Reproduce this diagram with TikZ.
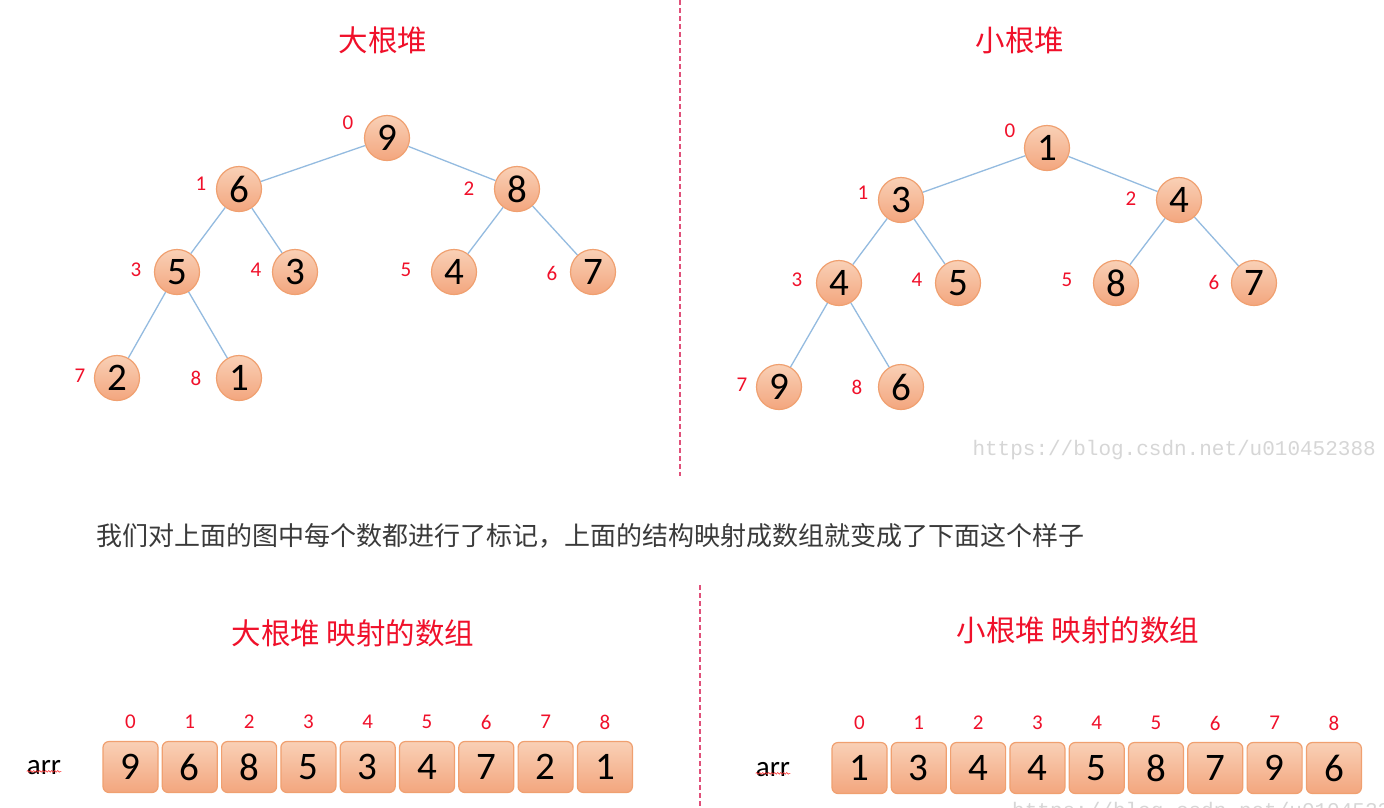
\documentclass[tikz,border=0pt]{standalone}
\usepackage{fontspec}
\setmainfont{Carlito}
\newfontfamily\cjk{Noto Sans CJK SC}
\newfontfamily\wmfont{Liberation Mono}
\usetikzlibrary{decorations.pathmorphing}
\definecolor{peachTop}{HTML}{F9D0B6}
\definecolor{peachBot}{HTML}{F3A67E}
\definecolor{peachLine}{HTML}{F0A070}
\definecolor{edgeblue}{HTML}{94BBE0}
\definecolor{idxred}{HTML}{F0102A}
\definecolor{dashred}{HTML}{E0507A}
\definecolor{captext}{HTML}{3A3A3A}
\begin{document}
\begin{tikzpicture}[x=1pt,y=-1pt,
  hnode/.style={circle,minimum size=45pt,inner sep=0pt,draw=peachLine,line width=1.2pt,
    top color=peachTop,bottom color=peachBot,font=\fontsize{39}{39}\selectfont},
  arrbox/.style={rectangle,rounded corners=6pt,minimum width=55pt,minimum height=51pt,inner sep=0pt,
    draw=peachLine,line width=1.2pt,top color=peachTop,bottom color=peachBot,font=\fontsize{39}{39}\selectfont},
  idx/.style={text=idxred,font=\fontsize{21}{21}\selectfont,inner sep=0pt},
  edge/.style={draw=edgeblue,line width=1.3pt},
  title/.style={text=idxred,font=\cjk\fontsize{29.5}{29.5}\selectfont,inner sep=0pt},
  sep/.style={draw=dashred,line width=1.2pt,dash pattern=on 5pt off 3pt},
  wm/.style={text=black!16,font=\wmfont\fontsize{21}{21}\selectfont,inner sep=0pt},
  arrlbl/.style={font=\fontsize{29}{29}\selectfont,inner sep=0pt}
]
\useasboundingbox (0,0) rectangle (1384,807);
\fill[white] (0,0) rectangle (1384,807);

% separators
\coordinate (s1a) at (680,0); \coordinate (s1b) at (680,476);
\coordinate (s2a) at (700,585); \coordinate (s2b) at (700,807);
\draw[sep] (s1a) -- (s1b);
\draw[sep] (s2a) -- (s2b);

% titles
\node[title] (t1) at (383,40) {大根堆};
\node[title] (t2) at (1020,40) {小根堆};

% big heap
\node[hnode] (a0) at (387,138) {9};
\node[hnode] (a1) at (239,189) {6};
\node[hnode] (a2) at (517,189) {8};
\node[hnode] (a3) at (177,272) {5};
\node[hnode] (a4) at (295,272) {3};
\node[hnode] (a5) at (454,272) {4};
\node[hnode] (a6) at (593,272) {7};
\node[hnode] (a7) at (117,378) {2};
\node[hnode] (a8) at (239,378) {1};
\draw[edge] (a0) -- (a1); \draw[edge] (a0) -- (a2);
\draw[edge] (a1) -- (a3); \draw[edge] (a1) -- (a4);
\draw[edge] (a2) -- (a5); \draw[edge] (a2) -- (a6);
\draw[edge] (a3) -- (a7); \draw[edge] (a3) -- (a8);
\node[idx] (ai0) at (348,123) {0};
\node[idx] (ai1) at (201,184) {1};
\node[idx] (ai2) at (469,189) {2};
\node[idx] (ai3) at (136,270) {3};
\node[idx] (ai4) at (256,270) {4};
\node[idx] (ai5) at (406,270) {5};
\node[idx] (ai6) at (552,273) {6};
\node[idx] (ai7) at (80,376) {7};
\node[idx] (ai8) at (196,378) {8};

% small heap
\node[hnode] (b0) at (1047,148) {1};
\node[hnode] (b1) at (901,200) {3};
\node[hnode] (b2) at (1179,200) {4};
\node[hnode] (b3) at (839,283) {4};
\node[hnode] (b4) at (958,283) {5};
\node[hnode] (b5) at (1116,283) {8};
\node[hnode] (b6) at (1254,283) {7};
\node[hnode] (b7) at (779,387) {9};
\node[hnode] (b8) at (901,387) {6};
\draw[edge] (b0) -- (b1); \draw[edge] (b0) -- (b2);
\draw[edge] (b1) -- (b3); \draw[edge] (b1) -- (b4);
\draw[edge] (b2) -- (b5); \draw[edge] (b2) -- (b6);
\draw[edge] (b3) -- (b7); \draw[edge] (b3) -- (b8);
\node[idx] (bi0) at (1010,131) {0};
\node[idx] (bi1) at (863,193) {1};
\node[idx] (bi2) at (1131,199) {2};
\node[idx] (bi3) at (797,280) {3};
\node[idx] (bi4) at (917,280) {4};
\node[idx] (bi5) at (1067,280) {5};
\node[idx] (bi6) at (1214,282) {6};
\node[idx] (bi7) at (742,385) {7};
\node[idx] (bi8) at (857,387) {8};

% watermark 1
\node[wm,anchor=east] (wm1) at (1376,450) {https://blog.csdn.net/u010452388};

% caption
\node[anchor=west,inner sep=0pt,text=captext,font=\cjk\fontsize{26}{26}\selectfont] (cap) at (96,536)
  {我们对上面的图中每个数都进行了标记，上面的结构映射成数组就变成了下面这个样子};

% bottom titles
\node[title] (t3) at (353,633) {大根堆 映射的数组};
\node[title] (t4) at (1078,630) {小根堆 映射的数组};

% arrays
\node[arrlbl] (arrL) at (44,768) {arr};
\node[arrlbl] (arrR) at (773,770) {arr};
\draw[red!80,line width=0.6pt,decorate,decoration={snake,amplitude=0.8pt,segment length=3pt}]
  ([yshift=4pt]arrL.south west) -- ([yshift=4pt]arrL.south east);
\draw[red!80,line width=0.6pt,decorate,decoration={snake,amplitude=0.8pt,segment length=3pt}]
  ([yshift=4pt]arrR.south west) -- ([yshift=4pt]arrR.south east);

\foreach \v [count=\i from 0] in {9,6,8,5,3,4,7,2,1} {
  \node[arrbox] (la\i) at (130.5+59.3*\i,767) {\v};
  \node[idx] (lx\i) at (130.5+59.3*\i,722) {\i};
}
\foreach \v [count=\i from 0] in {1,3,4,4,5,8,7,9,6} {
  \node[arrbox] (ra\i) at (859.5+59.3*\i,768) {\v};
  \node[idx] (rx\i) at (859.5+59.3*\i,723) {\i};
}

% watermark 2 (cut off at the bottom edge, as in the reference)
\node[wm,anchor=west] (wm2) at (1012,812) {https://blog.csdn.net/u010452388};
\end{tikzpicture}
\end{document}
